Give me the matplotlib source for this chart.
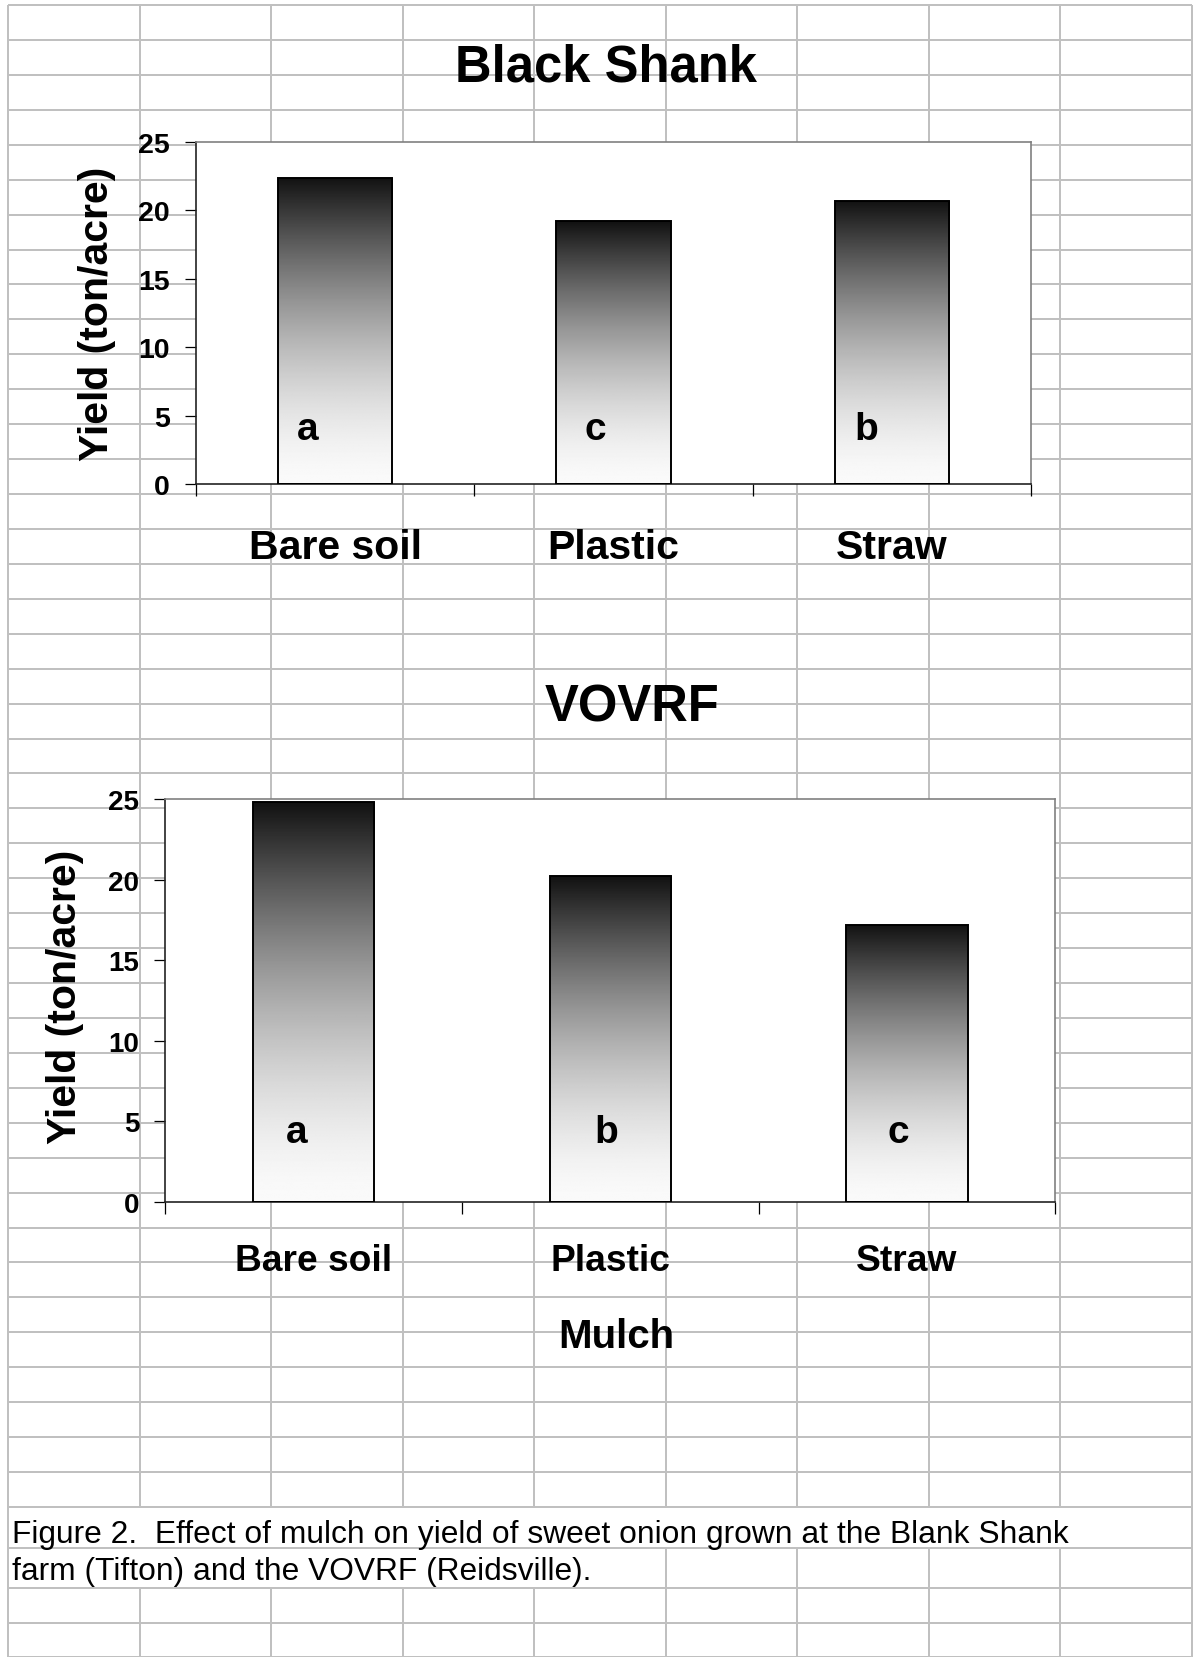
import numpy as np
import matplotlib
matplotlib.use("Agg")
import matplotlib.pyplot as plt

plt.rcParams['font.family'] = ['Liberation Sans', 'DejaVu Sans']

# ---- data ----
categories = ["Bare soil", "Plastic", "Straw"]
black_shank_yield = [22.4, 19.2, 20.7]
black_shank_letters = ["a", "c", "b"]
vovrf_yield = [24.8, 20.2, 17.2]
vovrf_letters = ["a", "b", "c"]
y_ticks = [0, 5, 10, 15, 20, 25]
caption_lines = ["Figure 2.  Effect of mulch on yield of sweet onion grown at the Blank Shank",
                 "farm (Tifton) and the VOVRF (Reidsville)."]

W, H = 1203, 1658
DPI = 100
fig = plt.figure(figsize=(W / DPI, H / DPI), dpi=DPI)
fig.patch.set_facecolor("white")

# ---- spreadsheet grid background (pixel coordinates) ----
bg = fig.add_axes([0, 0, 1, 1], zorder=0)
bg.set_xlim(0, W)
bg.set_ylim(H, 0)
bg.axis("off")
grid_c = "#c0c0c0"
grid_lw = 1.44
row_edges = [6 + 34.93 * k for k in range(44)] + [1549.3, 1589.0, 1624.0, 1657.5]
col_edges = [8 + 131.5 * j for j in range(10)]
for y in row_edges:
    bg.plot([col_edges[0], col_edges[-1]], [y, y], color=grid_c, lw=grid_lw, solid_capstyle="butt")
# rows occupied by overflowing caption text hide some interior vertical lines
cap1 = (row_edges[43], row_edges[44])
cap2 = (row_edges[44], row_edges[45])
for j, x in enumerate(col_edges):
    segs = []
    interior = 0 < j < len(col_edges) - 1
    if interior:
        segs.append((row_edges[0], cap1[0]))
        if j >= 5:
            segs.append((cap2[0], cap2[1]))
        segs.append((cap2[1], row_edges[-1]))
    else:
        segs.append((row_edges[0], row_edges[-1]))
    for a, b in segs:
        bg.plot([x, x], [a, b], color=grid_c, lw=grid_lw, solid_capstyle="butt")


def frac_rect(x0, y0, x1, y1):
    return [x0 / W, 1 - y1 / H, (x1 - x0) / W, (y1 - y0) / H]


t = np.linspace(0, 1, 256)
grad = (0.07 + 0.91 * (1 - (1 - t) ** 1.6)).reshape(-1, 1)


def draw_chart(rect, values, letters, letter_dx, letter_y, tick_fs, cat_fs, cat_pad, ylab_xy):
    ax = fig.add_axes(rect, zorder=2)
    ax.set_facecolor("white")
    x = np.arange(len(categories))
    bars = ax.bar(x, values, width=0.41, facecolor="none", edgecolor="black", linewidth=1.4, zorder=3)
    for p in bars.patches:
        x0, y0 = p.get_x(), p.get_y()
        im = ax.imshow(grad, cmap="gray", vmin=0, vmax=1, aspect="auto", origin="upper",
                       extent=[x0, x0 + p.get_width(), y0, y0 + p.get_height()], zorder=2,
                       interpolation="bilinear")
        im.set_clip_path(p)
    for i, (lab, dx) in enumerate(zip(letters, letter_dx)):
        ax.text(i + dx, letter_y, lab, ha="center", va="baseline", fontsize=28,
                fontweight="bold", zorder=4)
    ax.set_xlim(-0.5, len(categories) - 0.5)
    ax.set_ylim(0, 25)
    ax.set_yticks(y_ticks)
    ax.set_yticklabels([str(v) for v in y_ticks], fontsize=tick_fs, fontweight="bold")
    ax.tick_params(axis="y", direction="out", length=7.7, width=0.9, pad=11, color="black")
    ax.set_xticks(x)
    ax.set_xticklabels(categories, fontsize=cat_fs, fontweight="bold")
    ax.set_xticks(np.arange(len(categories) + 1) - 0.5, minor=True)
    ax.tick_params(axis="x", which="major", length=0, pad=cat_pad)
    ax.tick_params(axis="x", which="minor", length=8.5, width=0.9, color="black")
    for s in ("left", "bottom"):
        ax.spines[s].set_color("#222222")
        ax.spines[s].set_linewidth(1.2)
    for s in ("top", "right"):
        ax.spines[s].set_color("#808080")
        ax.spines[s].set_linewidth(1.2)
    ax.set_ylabel("Yield (ton/acre)", fontsize=29.5, fontweight="bold", va="center")
    ax.yaxis.set_label_coords(*ylab_xy)
    return ax


ax1 = draw_chart(frac_rect(196, 143, 1031, 485), black_shank_yield, black_shank_letters,
                 [-0.097, -0.065, -0.093], 3.3, 20.5, 29.5, 31.5, (-0.119, 0.5))
ax2 = draw_chart(frac_rect(165.3, 800, 1055.4, 1203), vovrf_yield, vovrf_letters,
                 [-0.057, -0.015, -0.03], 3.75, 20, 26.7, 29.5, (-0.1127, 0.512))
ax2.set_xlabel("Mulch", fontsize=29, fontweight="bold", va="baseline")
ax2.xaxis.set_label_coords((616.7 - 165.3) / (1055.4 - 165.3), -(1348.3 - 1203) / (1203 - 800))

fig.text(606 / W, 1 - 81.7 / H, "Black Shank", ha="center", va="baseline",
         fontsize=36.5, fontweight="bold", zorder=5)
fig.text(632 / W, 1 - 721.7 / H, "VOVRF", ha="center", va="baseline",
         fontsize=36.5, fontweight="bold", zorder=5)

fig.text(12 / W, 1 - 1542.7 / H, caption_lines[0], ha="left", va="baseline", fontsize=22.9, zorder=5)
fig.text(12 / W, 1 - 1580.5 / H, caption_lines[1], ha="left", va="baseline", fontsize=22.9, zorder=5)

fig.savefig("out.png", dpi=DPI, facecolor="white")
